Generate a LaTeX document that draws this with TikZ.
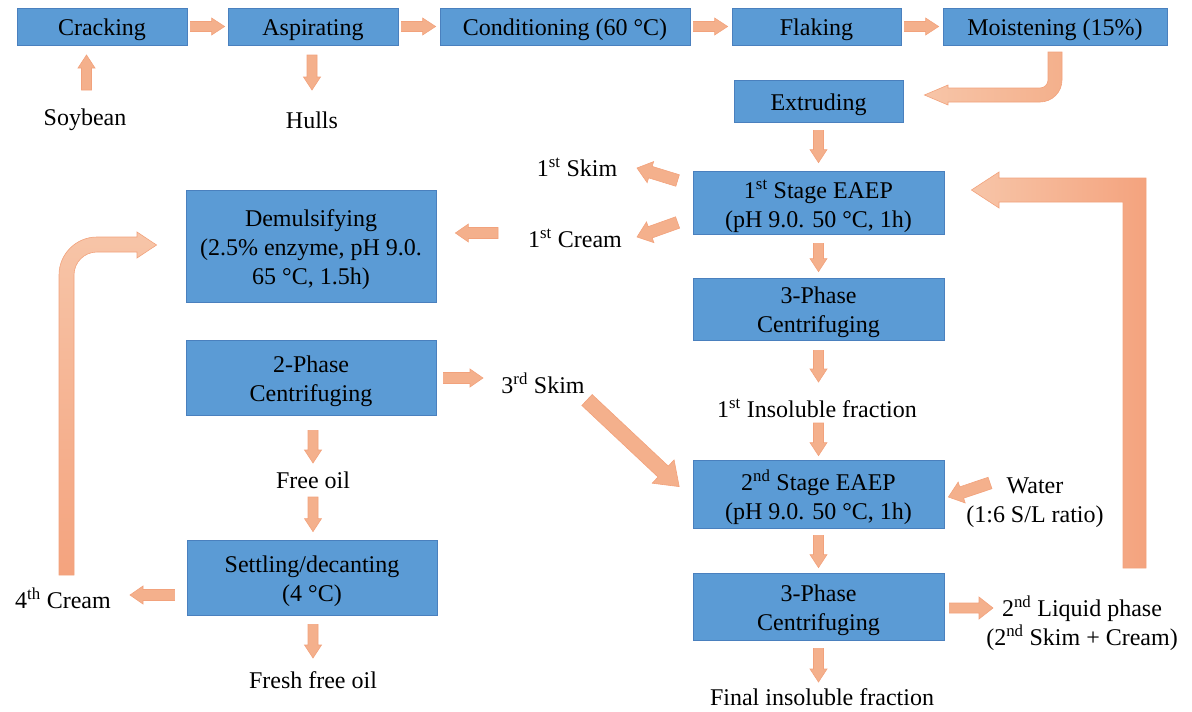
\documentclass[tikz,border=0pt]{standalone}
\usepackage{fontspec}
\setmainfont{Liberation Serif}
\newfontfamily\tnr{Liberation Serif}
\usetikzlibrary{calc}
\definecolor{boxblue}{HTML}{5B9BD5}
\definecolor{boxedge}{HTML}{4A80BE}
\definecolor{arrfill}{HTML}{F4B08C}
\definecolor{arrlight}{HTML}{F7C5A8}
\definecolor{arrdark}{HTML}{F4A37E}
\definecolor{arredge}{HTML}{F2A27C}
\tikzset{
  txt/.style={align=center, inner sep=0pt, font=\tnr\fontsize{24}{29}\selectfont},
  proc/.style={draw=boxedge, fill=boxblue, line width=0.8pt, inner sep=0pt},
  boxtext/.style={txt, yshift=-3.5pt},
  lbl/.style={txt, yshift=-3pt},
  smallarrow/.style={fill=arrfill, draw=arredge, line width=0.6pt},
  bigarrow/.style={draw=arredge, line width=0.6pt}
}
\makeatletter
\newcommand\blockarr[6][]{%
  \path (#2) coordinate (ba-s) (#3) coordinate (ba-e);%
  \pgfpointdiff{\pgfpointanchor{ba-s}{center}}{\pgfpointanchor{ba-e}{center}}%
  \edef\ba@dx{\the\pgf@x}\edef\ba@dy{\the\pgf@y}%
  \pgfmathsetmacro\ba@len{veclen(\ba@dx,\ba@dy)}%
  \pgfmathsetmacro\ba@ang{atan2(\ba@dy,\ba@dx)}%
  \pgfmathsetmacro\ba@base{\ba@len-#6}%
  \draw[smallarrow,#1,shift={(ba-s)},rotate=\ba@ang] (0,#4) -- (\ba@base,#4) -- (\ba@base,#5)
    -- (\ba@len,0) -- (\ba@base,-#5) -- (\ba@base,-#4) -- (0,-#4) -- cycle;%
}
\makeatother
\begin{document}
\begin{tikzpicture}[x=1pt,y=-1pt]
\useasboundingbox (0,0) rectangle (1192,712);
% boxes
\node[proc, minimum width=170pt, minimum height=37pt, label={[boxtext]center:Cracking}] (crack) at (102,26.5) {};
\node[proc, minimum width=170pt, minimum height=37pt, label={[boxtext]center:Aspirating}] (asp) at (313,26.5) {};
\node[proc, minimum width=250pt, minimum height=37pt, label={[boxtext]center:Conditioning (60 °C)}] (cond) at (565,26.5) {};
\node[proc, minimum width=169pt, minimum height=37pt, label={[boxtext]center:Flaking}] (flak) at (816.5,26.5) {};
\node[proc, minimum width=224pt, minimum height=37pt, label={[boxtext]center:Moistening (15\%)}] (moist) at (1055,26.5) {};
\node[proc, minimum width=169pt, minimum height=42pt, label={[boxtext]center:Extruding}] (extr) at (818.5,101) {};
\node[proc, minimum width=251pt, minimum height=63pt, label={[boxtext]center:{1\textsuperscript{st} Stage EAEP\\(pH 9.0. 50 °C, 1h)}}] (stage1) at (818.5,202.5) {};
\node[proc, minimum width=251pt, minimum height=62pt, label={[boxtext]center:{3-Phase\\Centrifuging}}] (cent1) at (818.5,309) {};
\node[proc, minimum width=251pt, minimum height=68pt, label={[boxtext]center:{2\textsuperscript{nd} Stage EAEP\\(pH 9.0. 50 °C, 1h)}}] (stage2) at (818.5,494) {};
\node[proc, minimum width=251pt, minimum height=67pt, label={[boxtext]center:{3-Phase\\Centrifuging}}] (cent2) at (818.5,606.5) {};
\node[proc, minimum width=250pt, minimum height=112pt, label={[boxtext]center:{Demulsifying\\(2.5\% enzyme, pH 9.0.\\65 °C, 1.5h)}}] (demul) at (311,246) {};
\node[proc, minimum width=250pt, minimum height=75pt, label={[boxtext]center:{2-Phase\\Centrifuging}}] (cent2p) at (311,377.5) {};
\node[proc, minimum width=250pt, minimum height=75pt, label={[boxtext]center:{Settling/decanting\\(4 °C)}}] (settle) at (312,577.5) {};
% labels
\node[lbl] (soy) at (85,117) {Soybean};
\node[lbl] (hulls) at (312,117) {Hulls};
\node[lbl] (skim1) at (577,164) {1\textsuperscript{st} Skim};
\node[lbl] (cream1) at (575,235) {1\textsuperscript{st} Cream};
\node[lbl] (skim3) at (543,380) {3\textsuperscript{rd} Skim};
\node[lbl] (freeoil) at (313,477) {Free oil};
\node[lbl] (fresh) at (313,677) {Fresh free oil};
\node[lbl] (cream4) at (63,595) {4\textsuperscript{th} Cream};
\node[lbl] (insol1) at (817,405) {1\textsuperscript{st} Insoluble fraction};
\node[lbl] (final) at (822,694) {Final insoluble fraction};
\node[lbl] (water) at (1035,500) {Water\\(1:6 S/L ratio)};
\node[lbl] (liquid) at (1082,620) {2\textsuperscript{nd} Liquid phase\\(2\textsuperscript{nd} Skim + Cream)};
% small block arrows
\blockarr{$(crack.east)+(3,0)$}{$(asp.west)+(-3,0)$}{5}{8.5}{13}
\blockarr{$(asp.east)+(3,0)$}{$(cond.west)+(-4,0)$}{5}{8.5}{13}
\blockarr{$(cond.east)+(3,0)$}{$(flak.west)+(-4,0)$}{5}{8.5}{13}
\blockarr{$(flak.east)+(3,0)$}{$(moist.west)+(-4,0)$}{5}{8.5}{13}
\blockarr{86.5,90}{86.5,55}{5}{8.5}{13}
\blockarr{312,55}{312,90}{5}{8.5}{13}
\blockarr{$(extr.south)+(0,8)$}{$(stage1.north)+(0,-8)$}{5}{8.5}{13}
\blockarr{$(stage1.south)+(0,9)$}{$(cent1.north)+(0,-6)$}{5}{8.5}{13}
\blockarr{$(cent1.south)+(0,10)$}{818.5,382}{5}{8.5}{13}
\blockarr{818.5,423}{$(stage2.north)+(0,-4)$}{5}{8.5}{13}
\blockarr{$(stage2.south)+(0,7)$}{$(cent2.north)+(0,-5)$}{5}{8.5}{13}
\blockarr{$(cent2.south)+(0,8)$}{818.5,682}{5}{8.5}{13}
\blockarr{$(cent2.east)+(5,1.5)$}{993,608}{5}{11}{14}
\blockarr{990,483}{$(stage2.east)+(4,3)$}{6}{11}{14}
\blockarr{$(stage1.west)+(-15,-22)$}{637,168}{6}{11}{14}
\blockarr{$(stage1.west)+(-15,20)$}{637,237}{6}{11}{14}
\blockarr{498,233}{$(demul.east)+(19,-13)$}{5.5}{9}{13}
\blockarr{$(cent2p.east)+(7,0.5)$}{483,378}{5.5}{9}{13}
\blockarr{587,400}{$(stage2.west)+(-13,-7)$}{7.5}{16}{22}
\blockarr{$(cent2p.south)+(2,15)$}{313,463}{5}{8.5}{13}
\blockarr{313,497}{$(settle.north)+(1,-8)$}{5}{8.5}{13}
\blockarr{$(settle.south)+(1,9)$}{313,658}{5}{8.5}{13}
\blockarr{$(settle.west)+(-12,17.5)$}{130,595}{5.5}{9}{13}
% bent arrow Moistening -> Extruding
\path[bigarrow, left color=arrlight, right color=arrfill]
  (1048,52) -- (1062,52) -- (1062,80) arc[start angle=0, end angle=90, radius=22]
  -- (948,102) -- (948,105) -- ($(extr.east)+(21,-6)$) -- (948,85) -- (948,88)
  -- (1040,88) arc[start angle=90, end angle=0, radius=8] -- cycle;
% big loop arrow back to 1st stage
\path[bigarrow, left color=arrlight, right color=arrdark]
  (1123,568) -- (1123,202) -- (999,202) -- (999,208) -- ($(stage1.east)+(27,-12.5)$)
  -- (999,172) -- (999,178) -- (1146,178) -- (1146,568) -- cycle;
% left loop arrow 4th cream -> demulsifying
\path[bigarrow, top color=arrlight, bottom color=arrdark]
  (59,575) -- (59,275) arc[start angle=180, end angle=270, radius=38]
  -- (137,237) -- (137,232) -- ($(demul.west)+(-29,-1)$) -- (137,258) -- (137,252)
  -- (97,252) arc[start angle=270, end angle=180, radius=23] -- (74,575) -- cycle;
\end{tikzpicture}
\end{document}
